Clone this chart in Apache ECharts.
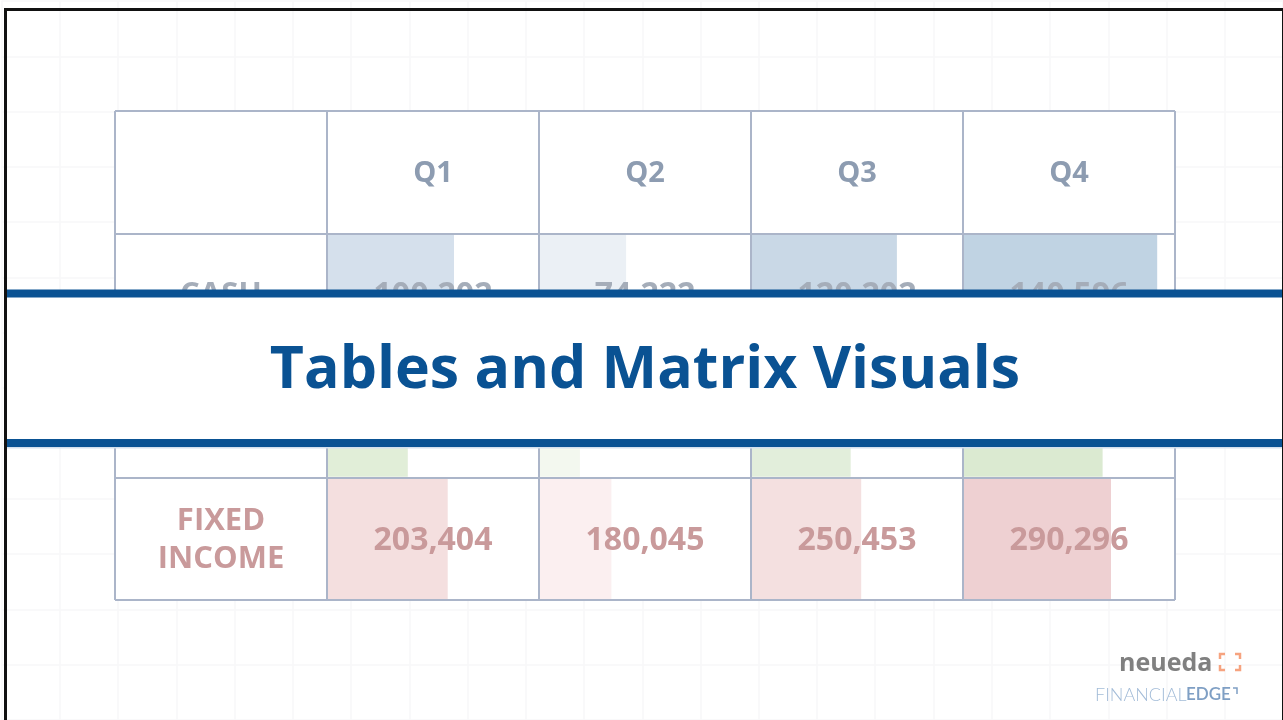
<!DOCTYPE html>
<html>
<head>
<meta charset="utf-8">
<title>Tables and Matrix Visuals</title>
<script src="https://cdn.jsdelivr.net/npm/echarts@6/dist/echarts.min.js"></script>
<style>
	html, body { margin: 0; padding: 0; background: #fff; }
	#slide { width: 1283px; height: 720px; }
</style>
</head>
<body>
<div id="slide"></div>
<script>
'use strict';

// table content
var quarters = ['Q1', 'Q2', 'Q3', 'Q4'];
var rowLabels = ['CASH', '', 'FIXED\nINCOME'];
var cashValues = [100202, 74222, 120202, 140596];
var fixedValues = [203404, 180045, 250453, 290296];
// share of the cell filled by the data bar
var cashBar = [0.60, 0.41, 0.69, 0.92];
var equityBar = [0.38, 0.19, 0.47, 0.66];
var fixedBar = [0.57, 0.34, 0.52, 0.70];

var cashColors = ['#d5e0ec', '#ebf0f5', '#c9d8e6', '#c0d3e3'];
var equityColors = ['#e1eed8', '#f3f8ef', '#e2eedb', '#dbead1'];
var fixedColors = ['#f4dfdf', '#fbeff0', '#f4e0e0', '#eed0d2'];

var BLUE = '#0a5293';
var FONT = '"Open Sans", "Noto Sans", sans-serif';

var main = ({
	init: function () {
		this.bars = this.barData();
		this.texts = this.textData();
		this.chart = echarts.init(document.getElementById('slide'), null, { renderer: 'canvas' });
		this.chart.setOption(this.buildOption());
		return this;
	},
	fmt: function (v) {
		return v.toLocaleString('en-US');
	},
	// bars: [col, row, share, color]
	barData: function () {
		var out = [];
		for (var i = 0; i < quarters.length; i++) {
			out.push([i + 1, 1, cashBar[i], cashColors[i]]);
			out.push([i + 1, 2, equityBar[i], equityColors[i]]);
			out.push([i + 1, 3, fixedBar[i], fixedColors[i]]);
		}
		return out;
	},
	// texts: [col, row, text, kind]
	textData: function () {
		var out = [];
		for (var i = 0; i < quarters.length; i++) {
			out.push([i + 1, 0, quarters[i], 'head']);
			out.push([i + 1, 1, this.fmt(cashValues[i]), 'cash']);
			out.push([i + 1, 3, this.fmt(fixedValues[i]), 'fixed']);
		}
		out.push([0, 1, rowLabels[0], 'cashLabel']);
		out.push([0, 3, rowLabels[2], 'fixedLabel']);
		return out;
	},
	logo: function () {
		var orange = '#f6a37f';
		var corner = function (pts) {
			return { type: 'polyline', z: 120, shape: { points: pts }, style: { stroke: orange, lineWidth: 2.5, fill: null } };
		};
		return [
			{ type: 'text', z: 120, style: { x: 1119, y: 664, text: 'neueda', fill: '#808080', font: 'bold 25px ' + FONT, verticalAlign: 'middle' } },
			corner([[1220, 659], [1220, 654], [1225, 654]]),
			corner([[1235, 654], [1240, 654], [1240, 659]]),
			corner([[1220, 665], [1220, 670], [1225, 670]]),
			corner([[1235, 670], [1240, 670], [1240, 665]]),
			{ type: 'text', z: 120, style: { x: 1095, y: 695, text: 'FINANCIAL', fill: '#a3bcd8', font: '300 18px Lato', verticalAlign: 'middle' } },
			{ type: 'text', z: 120, style: { x: 1186, y: 695, text: 'EDGE', fill: '#7f9fc4', font: '600 17px Lato', verticalAlign: 'middle' } },
			{ type: 'polyline', z: 120, shape: { points: [[1233, 688], [1237, 688], [1237, 694]] }, style: { stroke: '#7f9fc4', lineWidth: 1.5, fill: null } }
		];
	},
	buildOption: function () {
		var _this = this;
		var textStyles = {
			head: { fill: '#8d9cb1', font: 'bold 29px ' + FONT, dy: 2 },
			cash: { fill: '#a5adb9', font: 'bold 32px ' + FONT, dy: 2 },
			fixed: { fill: '#c99a9b', font: 'bold 32px ' + FONT, dy: 2 },
			cashLabel: { fill: '#a5adb9', font: 'bold 31px ' + FONT, dy: 1 },
			fixedLabel: { fill: '#c99a9b', font: 'bold 31px ' + FONT, dy: 1 }
		};
		return {
			animation: false,
			backgroundColor: '#fff',
			grid: [
				{ left: 1.5, top: 1, width: 1287, height: 741, z: 0 },
				{ left: 115, top: 111, width: 1060, height: 489, z: 1, show: true, backgroundColor: '#fff', borderWidth: 0 }
			],
			xAxis: [
				{
					gridIndex: 0, type: 'value', min: 0, max: 22, interval: 1, z: 0,
					axisLine: { show: false }, axisTick: { show: false }, axisLabel: { show: false },
					splitLine: { lineStyle: { color: '#f7f7f9', width: 1.5 } }
				},
				{
					gridIndex: 1, type: 'value', min: 0, max: 5, interval: 1, z: 3,
					axisLine: { show: false }, axisTick: { show: false }, axisLabel: { show: false },
					splitLine: { show: true, showMinLine: true, showMaxLine: true, lineStyle: { color: '#abb5c9', width: 2 } }
				}
			],
			yAxis: [
				{
					gridIndex: 0, type: 'value', min: 0, max: 13, interval: 1, inverse: true, z: 0,
					axisLine: { show: false }, axisTick: { show: false }, axisLabel: { show: false },
					splitLine: { lineStyle: { color: '#f7f7f9', width: 1.5 } }
				},
				{
					gridIndex: 1, type: 'value', min: 0, max: 4, interval: 1, inverse: true, z: 3,
					axisLine: { show: false }, axisTick: { show: false }, axisLabel: { show: false },
					splitLine: { show: true, showMinLine: true, showMaxLine: true, lineStyle: { color: '#abb5c9', width: 2 } }
				}
			],
			series: [
				{
					type: 'custom', xAxisIndex: 1, yAxisIndex: 1, z: 2, silent: true,
					renderItem: function (params, api) {
						var c = api.value(0), r = api.value(1);
						var p0 = api.coord([c, r]);
						var p1 = api.coord([c + 1, r + 1]);
						var w = (p1[0] - p0[0] - 2) * api.value(2);
						return {
							type: 'rect',
							shape: { x: p0[0] + 1, y: p0[1] + 1, width: w, height: p1[1] - p0[1] - 2 },
							style: { fill: _this.bars[params.dataIndex][3] }
						};
					},
					data: _this.bars.map(function (d) { return [d[0], d[1], d[2]]; })
				},
				{
					type: 'custom', xAxisIndex: 1, yAxisIndex: 1, z: 4, silent: true,
					renderItem: function (params, api) {
						var d = _this.texts[params.dataIndex];
						var p0 = api.coord([d[0], d[1]]);
						var p1 = api.coord([d[0] + 1, d[1] + 1]);
						var s = textStyles[d[3]];
						return {
							type: 'text',
							style: {
								x: (p0[0] + p1[0]) / 2,
								y: (p0[1] + p1[1]) / 2 + s.dy,
								text: d[2],
								fill: s.fill,
								font: s.font,
								lineHeight: 38,
								align: 'center',
								verticalAlign: 'middle'
							}
						};
					},
					data: _this.texts.map(function (d) { return [d[0], d[1]]; })
				}
			],
			graphic: [
				// title band
				{ type: 'rect', z: 100, shape: { x: 7, y: 297, width: 1276, height: 142 }, style: { fill: '#fff' } },
				{ type: 'rect', z: 101, shape: { x: 7, y: 289.5, width: 1276, height: 8 }, style: { fill: BLUE } },
				{ type: 'rect', z: 101, shape: { x: 7, y: 439, width: 1276, height: 8 }, style: { fill: BLUE } },
				{ type: 'rect', z: 101, shape: { x: 7, y: 447, width: 1276, height: 1.5 }, style: { fill: '#d4e0ee' } },
				{
					type: 'text', z: 102,
					style: {
						x: 645, y: 371, text: 'Tables and Matrix Visuals', fill: BLUE,
						font: 'bold 59px ' + FONT, align: 'center', verticalAlign: 'middle'
					}
				},
				// slide frame
				{ type: 'rect', z: 110, shape: { x: 5.5, y: 9.5, width: 1278, height: 730 }, style: { fill: null, stroke: '#111', lineWidth: 3 } }
			].concat(_this.logo())
		};
	}
}).init();
</script>
</body>
</html>
